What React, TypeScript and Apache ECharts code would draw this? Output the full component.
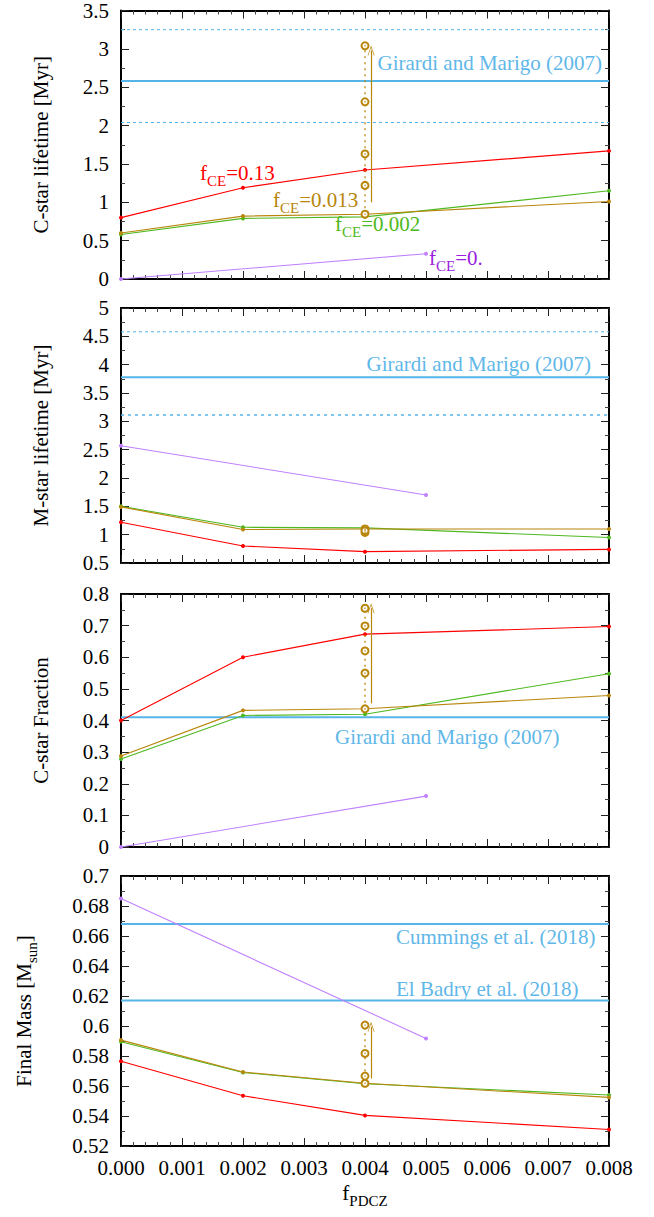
import React, { useEffect, useRef } from "react";
import * as echarts from "echarts";

// ---------- data ----------
const xMain = [0, 0.002, 0.004, 0.008];
const xPurple = [0, 0.005];
const xExtra = 0.004; // f_PDCZ where the extra (open circle) models sit
const xArrow = 0.0041;
const xTickLabels = ["0.000", "0.001", "0.002", "0.003", "0.004", "0.005", "0.006", "0.007", "0.008"];

// Panel 1: C-star lifetime [Myr]
const cLifeRed = [0.8, 1.19, 1.42, 1.67];
const cLifeBrown = [0.6, 0.82, 0.845, 1.01];
const cLifeGreen = [0.58, 0.79, 0.81, 1.15];
const cLifePurple = [0, 0.33];
const cLifeBrownUp = [1.22, 1.63, 2.31, 3.04];
const cLifeArrow = [1.0, 2.98];
const cLifeRef = 2.58;
const cLifeRefBand = [2.04, 3.25];

// Panel 2: M-star lifetime [Myr]
const mLifeRed = [1.22, 0.8, 0.7, 0.74];
const mLifeBrown = [1.49, 1.09, 1.1, 1.1];
const mLifeGreen = [1.5, 1.13, 1.12, 0.95];
const mLifePurple = [2.57, 1.7];
const mLifeBrownUp = [1.04, 1.07];
const mLifeRef = 3.78;
const mLifeRefBand = [3.11, 4.58];

// Panel 3: C-star fraction
const cFracRed = [0.4, 0.6, 0.673, 0.697];
const cFracBrown = [0.288, 0.432, 0.437, 0.479];
const cFracGreen = [0.278, 0.416, 0.42, 0.548];
const cFracPurple = [0, 0.161];
const cFracBrownUp = [0.55, 0.62, 0.699, 0.755];
const cFracArrow = [0.454, 0.755];
const cFracRef = 0.41;

// Panel 4: Final mass [Msun]
const massRed = [0.5765, 0.5535, 0.5404, 0.531];
const massBrown = [0.5906, 0.5693, 0.5618, 0.5524];
const massGreen = [0.5895, 0.569, 0.5615, 0.554];
const massPurple = [0.685, 0.5917];
const massBrownUp = [0.5666, 0.5817, 0.6006];
const massArrow = [0.565, 0.5995];
const massRefCummings = 0.668;
const massRefElBadry = 0.617;

// ---------- styles ----------
const FONT = "Liberation Serif, serif";
const RED = "#ff0000";
const BROWN = "#b8860b";
const GREEN = "#4fb820";
const PURPLE = "#c080ff";
const PURPLE_TXT = "#9a1de0";
const BLUE = "#56b4e9";
const BLUE_TXT = "#5fb7e8";

const GRIDS = [
  { top: 8, height: 271 },
  { top: 308, height: 255 },
  { top: 594, height: 253 },
  { top: 876, height: 270 },
];
const LEFT = 121;
const WIDTH = 488;

const Y_AXES = [
  { min: 0, max: 3.5, interval: 0.5, name: "C-star lifetime [Myr]", gap: 70 },
  { min: 0.5, max: 5, interval: 0.5, name: "M-star lifetime [Myr]", gap: 70 },
  { min: 0, max: 0.8, interval: 0.1, name: "C-star Fraction", gap: 70 },
  { min: 0.52, max: 0.7, interval: 0.02, name: "{m|Final Mass [M}{s|sun}{m|]}", gap: 86 },
];

const ARROW_PATH = "path://M0,10L5,0L10,10L9,10L5,2L1,10Z";

function richFor(color: string) {
  return {
    m: { fontSize: 21, fontFamily: FONT, fill: color, color, lineHeight: 22, verticalAlign: "top" },
    s: { fontSize: 15, fontFamily: FONT, fill: color, color, lineHeight: 16, padding: [11, 0, 0, 0], verticalAlign: "top" },
  };
}

export default function App() {
  const ref = useRef<HTMLDivElement>(null);
  useEffect(() => {
    if (!ref.current) return;
    const chart = echarts.init(ref.current, null, { renderer: "svg" });

    const grid = GRIDS.map((g) => ({ left: LEFT, width: WIDTH, top: g.top, height: g.height, containLabel: false }));

    const xAxis: any[] = [];
    const yAxis: any[] = [];
    GRIDS.forEach((_, i) => {
      const last = i === GRIDS.length - 1;
      const baseX = {
        type: "value",
        gridIndex: i,
        min: 0,
        max: 0.008,
        interval: 0.001,
        axisLine: { show: true, onZero: false, lineStyle: { color: "#000", width: 2 } },
        axisTick: { show: true, inside: true, length: 8, lineStyle: { color: "#222", width: 1 } },
        minorTick: { show: true, splitNumber: 5, length: 4, lineStyle: { color: "#444", width: 1 } },
        splitLine: { show: false },
        minorSplitLine: { show: false },
      };
      xAxis.push({
        ...baseX,
        position: "bottom",
        axisLabel: {
          show: last,
          margin: 11,
          fontSize: 21,
          fontFamily: FONT,
          color: "#000",
          formatter: (v: number) => xTickLabels[Math.round(v / 0.001)] ?? v.toFixed(3),
        },
        name: last ? "{m|f}{s|PDCZ}" : "",
        nameLocation: "middle",
        nameGap: 36,
        nameTextStyle: { fontFamily: FONT, rich: richFor("#000"), verticalAlign: "top" },
      });
      xAxis.push({ ...baseX, position: "top", axisLabel: { show: false } });

      const ya = Y_AXES[i];
      const baseY = {
        type: "value",
        gridIndex: i,
        min: ya.min,
        max: ya.max,
        interval: ya.interval,
        axisLine: { show: true, onZero: false, lineStyle: { color: "#000", width: 2 } },
        axisTick: { show: true, inside: true, length: 8, lineStyle: { color: "#222", width: 1 } },
        minorTick: { show: true, splitNumber: 2, length: 4, lineStyle: { color: "#444", width: 1 } },
        splitLine: { show: false },
        minorSplitLine: { show: false },
      };
      yAxis.push({
        ...baseY,
        position: "left",
        axisLabel: { show: true, margin: 12, fontSize: 21, fontFamily: FONT, color: "#000" },
        name: ya.name,
        nameLocation: "middle",
        nameRotate: 90,
        nameGap: ya.gap,
        nameTextStyle: { fontSize: 21, fontFamily: FONT, color: "#000", rich: richFor("#000") },
      });
      yAxis.push({ ...baseY, position: "right", axisLabel: { show: false } });
    });

    const series: any[] = [];
    const ax = (i: number) => ({ xAxisIndex: 2 * i, yAxisIndex: 2 * i });

    const hline = (i: number, v: number, width: number, type: any) => {
      series.push({
        type: "line",
        ...ax(i),
        data: [
          [0, v],
          [0.008, v],
        ],
        symbol: "none",
        silent: true,
        lineStyle: { color: BLUE, width, type },
        z: 1,
      });
    };

    const line = (i: number, xs: number[], ys: number[], color: string, z = 3) => {
      series.push({
        type: "line",
        ...ax(i),
        data: xs.map((x, k) => [x, ys[k]]),
        symbol: "circle",
        symbolSize: 4,
        showSymbol: true,
        silent: true,
        lineStyle: { color, width: 1.1 },
        itemStyle: { color },
        z,
      });
    };

    const extra = (i: number, base: number, ups: number[], arrow: number[] | null) => {
      const pts = [[xExtra, base], ...ups.map((v) => [xExtra, v])];
      series.push({
        type: "line",
        ...ax(i),
        data: pts,
        symbol: "emptyCircle",
        symbolSize: 7,
        silent: true,
        lineStyle: { color: BROWN, width: 1.3, type: [2, 4] },
        itemStyle: { color: BROWN, borderWidth: 1 },
        z: 4,
        markLine: arrow
          ? {
              silent: true,
              symbol: ["none", ARROW_PATH],
              symbolSize: [7, 10],
              label: { show: false },
              lineStyle: { color: BROWN, width: 1.2, type: "solid" },
              data: [[{ coord: [xArrow, arrow[0]] }, { coord: [xArrow, arrow[1]] }]],
            }
          : undefined,
      });
      series.push({
        type: "scatter",
        ...ax(i),
        data: pts,
        symbol: "circle",
        symbolSize: 1.6,
        silent: true,
        itemStyle: { color: BROWN },
        z: 5,
      });
    };

    // Panel 1
    hline(0, cLifeRefBand[0], 1, [3, 3]);
    hline(0, cLifeRefBand[1], 1, [3, 3]);
    hline(0, cLifeRef, 2, "solid");
    line(0, xMain, cLifeRed, RED);
    line(0, xMain, cLifeGreen, GREEN);
    line(0, xMain, cLifeBrown, BROWN);
    line(0, xPurple, cLifePurple, PURPLE);
    extra(0, cLifeBrown[2], cLifeBrownUp, cLifeArrow);

    // Panel 2
    hline(1, mLifeRefBand[0], 1.5, [3, 4]);
    hline(1, mLifeRefBand[1], 1, [3, 3]);
    hline(1, mLifeRef, 2, "solid");
    line(1, xMain, mLifeRed, RED);
    line(1, xMain, mLifeGreen, GREEN);
    line(1, xMain, mLifeBrown, BROWN);
    line(1, xPurple, mLifePurple, PURPLE);
    extra(1, mLifeBrown[2], mLifeBrownUp, null);

    // Panel 3
    hline(2, cFracRef, 2, "solid");
    line(2, xMain, cFracRed, RED);
    line(2, xMain, cFracGreen, GREEN);
    line(2, xMain, cFracBrown, BROWN);
    line(2, xPurple, cFracPurple, PURPLE);
    extra(2, cFracBrown[2], cFracBrownUp, cFracArrow);

    // Panel 4
    hline(3, massRefCummings, 2, "solid");
    hline(3, massRefElBadry, 2, "solid");
    line(3, xMain, massRed, RED);
    line(3, xMain, massGreen, GREEN);
    line(3, xMain, massBrown, BROWN);
    line(3, xPurple, massPurple, PURPLE);
    extra(3, massBrown[2], massBrownUp, massArrow);

    const plainText = (text: string, x: number, y: number, align: string) => ({
      type: "text",
      x,
      y,
      silent: true,
      style: { text, fill: BLUE_TXT, fontSize: 21, fontFamily: FONT, align, verticalAlign: "middle" },
    });
    const subText = (main: string, sub: string, rest: string, color: string, x: number, y: number) => ({
      type: "text",
      x,
      y,
      silent: true,
      style: {
        text: `{m|${main}}{s|${sub}}{m|${rest}}`,
        rich: richFor(color),
        fill: color,
        fontFamily: FONT,
        align: "left",
        verticalAlign: "top",
      },
    });

    const graphic = [
      plainText("Girardi and Marigo (2007)", 602, 63, "right"),
      plainText("Girardi and Marigo (2007)", 591, 364, "right"),
      plainText("Girardi and Marigo (2007)", 335, 737, "left"),
      plainText("Cummings et al. (2018)", 396, 937, "left"),
      plainText("El Badry et al. (2018)", 396, 989, "left"),
      subText("f", "CE", "=0.13", RED, 200, 162),
      subText("f", "CE", "=0.013", BROWN, 273, 189),
      subText("f", "CE", "=0.002", GREEN, 335, 213),
      subText("f", "CE", "=0.", PURPLE_TXT, 429, 247),
    ];

    chart.setOption({
      animation: false,
      backgroundColor: "#fff",
      grid,
      xAxis,
      yAxis,
      series,
      graphic,
    });
    return () => chart.dispose();
  }, []);

  return (
    <div
      ref={ref}
      style={{ position: "absolute", left: 0, top: 0, width: 654, height: 1217, background: "#fff" }}
    />
  );
}
